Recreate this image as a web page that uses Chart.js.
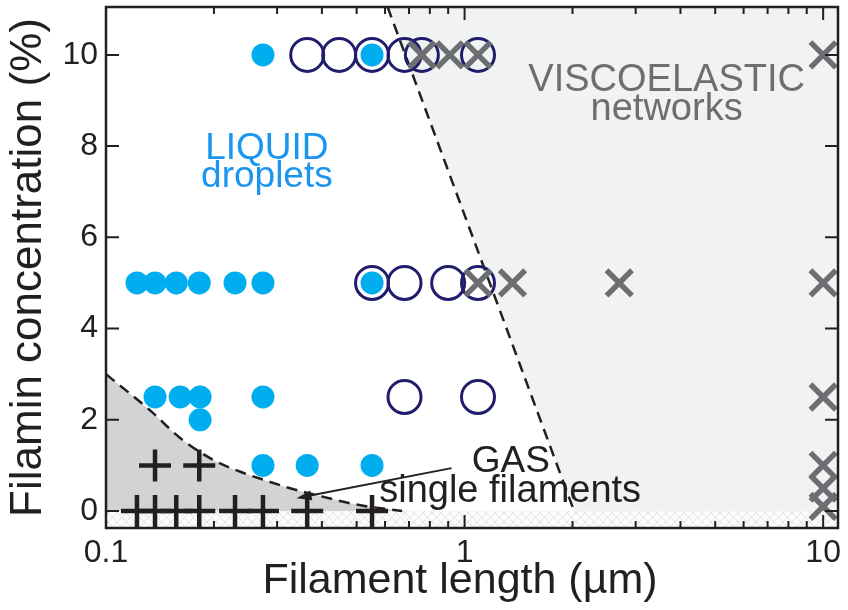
<!DOCTYPE html>
<html><head><meta charset="utf-8">
<script src="https://cdn.jsdelivr.net/npm/chart.js@4.4.1/dist/chart.umd.min.js"></script>
<style>html,body{margin:0;padding:0;background:#fff}#wrap{width:848px;height:610px;position:relative}</style>
</head><body><div id="wrap"><canvas id="c"></canvas></div>
<script>
// ---- data (filament length in µm, filamin concentration in %) ----
const liquidLength = [0.274, 0.552, 0.122, 0.137, 0.157, 0.182, 0.229, 0.274, 0.552, 0.137, 0.161, 0.183, 0.274, 0.183, 0.274, 0.364, 0.552];
const liquidConc   = [10, 10, 5, 5, 5, 5, 5, 5, 5, 2.5, 2.5, 2.5, 2.5, 2, 1, 1, 1];
const circleLength = [0.364, 0.447, 0.552, 0.68, 0.76, 1.09, 0.552, 0.68, 0.9, 1.09, 0.68, 1.09];
const circleConc   = [10, 10, 10, 10, 10, 10, 5, 5, 5, 5, 2.5, 2.5];
const viscoLength  = [0.76, 0.91, 1.09, 10, 1.09, 1.36, 2.7, 10, 10, 10, 10, 10];
const viscoConc    = [10, 10, 10, 10, 5, 5, 5, 5, 2.5, 1, 0.5, 0.1];
const gasLength    = [0.137, 0.182, 0.122, 0.137, 0.157, 0.182, 0.229, 0.274, 0.364, 0.552];
const gasConc      = [1, 1, 0, 0, 0, 0, 0, 0, 0, 0];
// phase boundaries
const viscoBoundaryLength = [0.61, 2.02];
const viscoBoundaryConc   = [11.05, 0];
const gasBoundaryLength = [0.1, 0.133, 0.161, 0.199, 0.237, 0.281, 0.326, 0.404, 0.5, 0.67];
const gasBoundaryConc   = [3.0, 2.2, 1.6, 1.12, 0.86, 0.66, 0.5, 0.31, 0.14, 0.0];
// axes
const xMin = 0.1, xMax = 11, yMin = -0.373, yMax = 11.05;
const xTickValues = [0.1,0.2,0.3,0.4,0.5,0.6,0.7,0.8,0.9,1,2,3,4,5,6,7,8,9,10];
const xLabelValues = [0.1, 1, 10];
const yTickValues = [0, 2, 4, 6, 8, 10];
const xTitle = 'Filament length (µm)';
const yTitle = 'Filamin concentration (%)';

const pts = (xs, ys) => xs.map((v, i) => ({x: v, y: ys[i]}));

const FONT = "'Liberation Sans', Arial, Helvetica, sans-serif";
const canvas = document.getElementById('c');
const ctx0 = canvas.getContext('2d');

function hatchPattern() {
  const c = document.createElement('canvas'); c.width = 9; c.height = 9;
  const g = c.getContext('2d');
  g.fillStyle = '#fbfbfb'; g.fillRect(0, 0, 9, 9);
  g.strokeStyle = '#e2e2e2'; g.lineWidth = 1;
  g.beginPath(); g.moveTo(0, 0); g.lineTo(9, 9); g.moveTo(9, 0); g.lineTo(0, 9); g.stroke();
  return ctx0.createPattern(c, 'repeat');
}

const annotations = [
  {lines: ['LIQUID', 'droplets'], x: 0.281, y: 7.72, gap: 28, color: '#1a95f0', size: 37},
  {lines: ['VISCOELASTIC', 'networks'], x: 3.66, y: 9.2, gap: 29, color: '#6d6e71', size: 38},
  {lines: ['GAS'], x: 1.346, y: 0.86, gap: 0, color: '#231f20', size: 37},
  {lines: ['single filaments'], x: 1.34, y: 0.2, gap: 0, color: '#231f20', size: 38}
];
const arrow = {from: {x: 0.92, y: 0.94}, to: {x: 0.34, y: 0.28}};

const framePlugin = {
  id: 'frame',
  afterDraw(chart) {
    const {ctx, chartArea: a, scales: {x, y}} = chart;
    ctx.save();
    annotations.forEach(an => {
      ctx.fillStyle = an.color;
      ctx.font = an.size + 'px ' + FONT;
      ctx.textAlign = 'center'; ctx.textBaseline = 'alphabetic';
      const px = x.getPixelForValue(an.x), py = y.getPixelForValue(an.y);
      an.lines.forEach((t, i) => ctx.fillText(t, px, py + i * an.gap));
    });
    ctx.fillStyle = '#231f20';
    ctx.font = '43px ' + FONT;
    ctx.textAlign = 'center'; ctx.textBaseline = 'alphabetic';
    ctx.fillText(xTitle, (a.left + a.right) / 2 - 12, 593);
    const x1 = x.getPixelForValue(arrow.from.x), y1 = y.getPixelForValue(arrow.from.y);
    const x2 = x.getPixelForValue(arrow.to.x), y2 = y.getPixelForValue(arrow.to.y);
    const ang = Math.atan2(y2 - y1, x2 - x1);
    ctx.strokeStyle = '#231f20'; ctx.fillStyle = '#231f20'; ctx.lineWidth = 2;
    ctx.beginPath(); ctx.moveTo(x1, y1); ctx.lineTo(x2 - 10 * Math.cos(ang), y2 - 10 * Math.sin(ang)); ctx.stroke();
    ctx.beginPath();
    ctx.moveTo(x2, y2);
    ctx.lineTo(x2 - 15 * Math.cos(ang) + 5 * Math.sin(ang), y2 - 15 * Math.sin(ang) - 5 * Math.cos(ang));
    ctx.lineTo(x2 - 15 * Math.cos(ang) - 5 * Math.sin(ang), y2 - 15 * Math.sin(ang) + 5 * Math.cos(ang));
    ctx.closePath(); ctx.fill();
    ctx.strokeStyle = '#231f20'; ctx.lineWidth = 2;
    ctx.beginPath();
    x.ticks.forEach(t => {
      const px = x.getPixelForValue(t.value);
      const len = xLabelValues.includes(t.value) ? 13 : 7;
      ctx.moveTo(px, a.bottom); ctx.lineTo(px, a.bottom - len);
      ctx.moveTo(px, a.top); ctx.lineTo(px, a.top + len);
    });
    y.ticks.forEach(t => {
      const py = y.getPixelForValue(t.value);
      ctx.moveTo(a.left, py); ctx.lineTo(a.left + 13, py);
      ctx.moveTo(a.right, py); ctx.lineTo(a.right - 13, py);
    });
    ctx.stroke();
    ctx.lineWidth = 2.5;
    ctx.strokeRect(a.left, a.top, a.right - a.left, a.bottom - a.top);
    ctx.restore();
  }
};

new Chart(canvas, {
  type: 'scatter',
  data: {
    datasets: [
      {
        data: [{x: xMin, y: 0}, {x: xMax, y: 0}],
        showLine: true, borderWidth: 0, pointRadius: 0, fill: 'start',
        backgroundColor: hatchPattern(), order: 20
      },
      {
        data: [...pts(viscoBoundaryLength, viscoBoundaryConc), {x: xMax, y: 0}, {x: xMax, y: yMax}],
        showLine: true, borderWidth: 0, pointRadius: 0, fill: 'shape',
        backgroundColor: '#f1f2f2', order: 19
      },
      {
        data: pts(gasBoundaryLength, gasBoundaryConc),
        showLine: true, borderWidth: 2.5, borderColor: '#231f20', borderDash: [11, 7],
        pointRadius: 0, fill: 'origin', backgroundColor: '#d1d3d4', cubicInterpolationMode: 'monotone', order: 18
      },
      {
        data: pts(viscoBoundaryLength, viscoBoundaryConc),
        showLine: true, borderWidth: 2.5, borderColor: '#231f20', borderDash: [11, 7],
        pointRadius: 0, fill: false, order: 17
      },
      { label: 'liquid', data: pts(liquidLength, liquidConc), pointStyle: 'circle', pointRadius: 11.5,
        backgroundColor: '#00aeef', borderColor: '#00aeef', borderWidth: 0, order: 10 },
      { label: 'coexisting', data: pts(circleLength, circleConc), pointStyle: 'circle', pointRadius: 16.5,
        backgroundColor: 'rgba(0,0,0,0)', borderColor: '#201d6c', borderWidth: 3, order: 9 },
      { label: 'viscoelastic', data: pts(viscoLength, viscoConc), pointStyle: 'crossRot', pointRadius: 18,
        borderColor: '#6d6e71', borderWidth: 5.5, order: 8 },
      { label: 'gas', data: pts(gasLength, gasConc), pointStyle: 'cross', pointRadius: 16,
        borderColor: '#231f20', borderWidth: 4.5, order: 7 }
    ]
  },
  options: {
    responsive: true, maintainAspectRatio: false, animation: false,
    layout: {autoPadding: false, padding: {top: 7, right: 10, left: 0, bottom: 0}},
    plugins: {legend: {display: false}, tooltip: {enabled: false}},
    scales: {
      x: {
        type: 'logarithmic', min: xMin, max: xMax,
        afterBuildTicks: s => { s.ticks = xTickValues.map(v => ({value: v, major: xLabelValues.includes(v)})); },
        afterFit: s => { s.height = 82; s.paddingLeft = 0; s.paddingRight = 0; },
        grid: {display: false, drawTicks: false}, border: {display: false},
        ticks: {autoSkip: false, maxRotation: 0, padding: 6, color: '#231f20',
          font: {family: FONT, size: 32},
          callback: v => xLabelValues.includes(v) ? String(v) : ''},
        title: {display: false}
      },
      y: {
        type: 'linear', min: yMin, max: yMax,
        afterBuildTicks: s => { s.ticks = yTickValues.map(v => ({value: v})); },
        afterFit: s => { s.width = 106; s.paddingTop = 0; s.paddingBottom = 0; },
        grid: {display: false, drawTicks: false}, border: {display: false},
        ticks: {autoSkip: false, padding: 8, color: '#231f20', font: {family: FONT, size: 32}},
        title: {display: true, text: yTitle, color: '#231f20',
          font: {family: FONT, size: 44}, padding: {top: 2, bottom: 0}}
      }
    }
  },
  plugins: [framePlugin]
});
</script></body></html>
